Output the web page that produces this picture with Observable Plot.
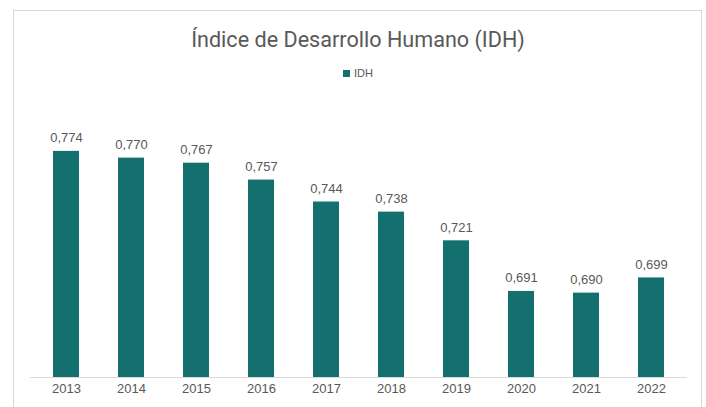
<!DOCTYPE html>
<html>
<head>
<meta charset="utf-8">
<script src="https://cdn.jsdelivr.net/npm/d3@7"></script>
<script src="https://cdn.jsdelivr.net/npm/@observablehq/plot@0.6"></script>
<style>
  html, body { margin: 0; padding: 0; background: #fff; }
  body { width: 706px; height: 407px; position: relative; overflow: hidden; font-family: "Liberation Sans", Arial, sans-serif; }
  #frame { position: absolute; left: 13px; top: 10px; width: 689px; height: 420px; border: 1px solid #d9d9d9; box-sizing: border-box; }
  #title { position: absolute; left: 13px; width: 690px; top: 27px; text-align: center; font-family: Roboto, sans-serif; font-size: 21.6px; color: #595959; line-height: 26px; }
  #legend { position: absolute; left: 13px; width: 690px; top: 66px; text-align: center; font-size: 11px; color: #595959; line-height: 14px; }
  #legend .sw { display: inline-block; width: 7px; height: 7px; background: #13706e; margin-right: 4px; vertical-align: 0px; }
  #chart { position: absolute; left: 0; top: 95px; }
</style>
</head>
<body>
<div id="frame"></div>
<div id="title">Índice de Desarrollo Humano (IDH)</div>
<div id="legend"><span class="sw"></span>IDH</div>
<div id="chart"></div>
<script>
const years = ["2013","2014","2015","2016","2017","2018","2019","2020","2021","2022"];
const idh = [0.774, 0.770, 0.767, 0.757, 0.744, 0.738, 0.721, 0.691, 0.690, 0.699];
const yMin = 0.64;
const yMax = 0.80;

const data = years.map((y, i) => ({year: y, value: idh[i]}));
const fmt = v => d3.format(".3f")(v).replace(".", ",");
const barColor = "#13706e";

const chart = Plot.plot({
  width: 706,
  height: 312,
  marginLeft: 30,
  marginRight: 19,
  marginTop: 12,
  marginBottom: 30,
  style: { fontFamily: "'Liberation Sans', Arial, sans-serif", background: "transparent" },
  x: { type: "band", domain: years, paddingInner: 0.6, paddingOuter: 0.3, label: null },
  y: { domain: [yMin, yMax], axis: null },
  marks: [
    Plot.barY(data, { x: "year", y1: yMin, y2: "value", fill: barColor }),
    Plot.ruleY([yMin], { stroke: "#d9d9d9", strokeWidth: 1 }),
    Plot.text(data, { x: "year", y: "value", text: d => fmt(d.value), dy: -9, lineAnchor: "bottom", fontSize: 13, fill: "#595959" }),
    Plot.axisX({ tickSize: 0, tickPadding: 6, fontSize: 13, color: "#595959", label: null })
  ]
});
document.getElementById("chart").appendChild(chart);
</script>
</body>
</html>
